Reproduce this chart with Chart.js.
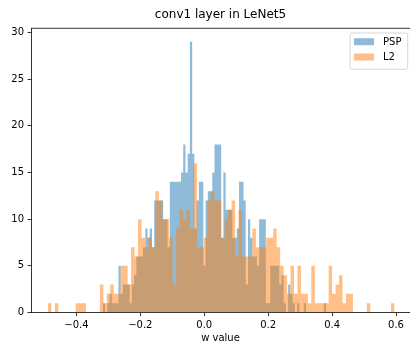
<!DOCTYPE html>
<html>
<head>
<meta charset="utf-8">
<title>conv1 layer in LeNet5</title>
<script src="https://cdn.jsdelivr.net/npm/chart.js@4.4.1/dist/chart.umd.min.js"></script>
<style>
  html, body { margin: 0; padding: 0; background: #fff; }
  canvas { display: block; }
</style>
</head>
<body>
<canvas id="histChart" width="410" height="345"></canvas>
<script>
// weight counts per bin, 100 bins for each run
const pspCounts = [
  1, 0, 1, 2, 1, 1, 1, 5, 2, 3,
  3, 3, 1, 3, 4, 6, 6, 6, 7, 9,
  8, 9, 7, 12, 12, 12, 12, 10, 10, 7,
  14, 14, 14, 14, 14, 15, 18, 15, 17, 29,
  17, 9, 12, 14, 14, 5, 12, 13, 13, 15,
  18, 18, 18, 8, 15, 11, 11, 11, 8, 8,
  9, 14, 14, 12, 3, 10, 8, 6, 6, 5,
  10, 10, 10, 1, 1, 5, 5, 5, 5, 3,
  4, 1, 0, 3, 2, 1, 0, 1, 0, 0,
  1, 0, 0, 0, 0, 0, 0, 0, 0, 1
];
const l2Counts = [
  1, 0, 1, 0, 0, 0, 0, 0, 1, 1,
  1, 0, 0, 0, 0, 3, 1, 2, 3, 2,
  2, 5, 5, 3, 7, 6, 10, 8, 7, 8,
  7, 13, 12, 10, 10, 8, 3, 9, 11, 10,
  11, 9, 16, 7, 7, 8, 12, 13, 12, 12,
  8, 10, 11, 12, 6, 11, 6, 6, 6, 9,
  7, 7, 7, 8, 8, 9, 7, 5, 4, 2,
  5, 2, 5, 2, 2, 1, 5, 1, 1, 1,
  1, 5, 2, 3, 4, 1, 2, 2, 0, 0,
  0, 0, 1, 0, 0, 0, 0, 0, 0, 1
];
// range of w values each histogram was binned over
const pspRange = [-0.3172, 0.3813];
const l2Range = [-0.4891, 0.5953];
const seriesLabels = ['PSP', 'L2'];
const xTicks = [-0.4, -0.2, 0.0, 0.2, 0.4, 0.6];
const yTicks = [0, 5, 10, 15, 20, 25, 30];

const xMin = -0.542, xMax = 0.64375;
const yMax = 30.45;

// histogram outline: one point per left bin edge, plus the closing right edge
function binEdges(counts, range) {
  const w = (range[1] - range[0]) / counts.length;
  const pts = counts.map((c, i) => ({ x: range[0] + i * w, y: c }));
  pts.push({ x: range[1], y: counts[counts.length - 1] });
  return pts;
}

function fmtX(v) {
  if (Math.abs(v) < 1e-9) return '0.0';
  return (v < 0 ? '\u2212' : '') + Math.abs(v).toFixed(1);
}

Chart.defaults.font.family = '"DejaVu Sans", sans-serif';
Chart.defaults.font.size = 10;
Chart.defaults.color = '#000';

// top spine + matplotlib style legend in the upper right corner
const frameAndLegend = {
  id: 'frameAndLegend',
  afterDraw(chart) {
    const { ctx, chartArea: area } = chart;
    ctx.save();
    ctx.strokeStyle = '#000';
    ctx.lineWidth = 0.8;
    ctx.beginPath();
    ctx.moveTo(area.left, area.top);
    ctx.lineTo(area.right, area.top);
    ctx.stroke();

    const boxW = 57.7, boxH = 36.3;
    const left = area.right - 2.3 - boxW;
    const top = area.top + 4.7;
    ctx.beginPath();
    ctx.roundRect(left, top, boxW, boxH, 2);
    ctx.fillStyle = 'rgba(255,255,255,0.8)';
    ctx.fill();
    ctx.strokeStyle = 'rgba(204,204,204,0.8)';
    ctx.lineWidth = 1;
    ctx.stroke();

    ctx.font = '10px "DejaVu Sans", sans-serif';
    ctx.textBaseline = 'middle';
    chart.data.datasets.forEach((ds, i) => {
      const cy = top + 8.7 + i * 15.3;
      ctx.fillStyle = ds.backgroundColor;
      ctx.fillRect(left + 4, cy - 3.5, 20, 7);
      ctx.fillStyle = '#000';
      ctx.fillText(ds.label, left + 33, cy + 0.5);
    });
    ctx.restore();
  }
};

const histStyle = {
  stepped: 'before',
  fill: 'origin',
  borderWidth: 0,
  pointRadius: 0,
  pointHoverRadius: 0,
  tension: 0
};

new Chart(document.getElementById('histChart').getContext('2d'), {
  type: 'line',
  data: {
    datasets: [
      Object.assign({
        label: seriesLabels[0],
        data: binEdges(pspCounts, pspRange),
        backgroundColor: 'rgba(31,119,180,0.5)',
        order: 2
      }, histStyle),
      Object.assign({
        label: seriesLabels[1],
        data: binEdges(l2Counts, l2Range),
        backgroundColor: 'rgba(255,127,14,0.5)',
        order: 1
      }, histStyle)
    ]
  },
  options: {
    responsive: false,
    devicePixelRatio: 1,
    animation: false,
    layout: { padding: 0 },
    plugins: {
      legend: { display: false },
      tooltip: { enabled: false },
      title: {
        display: true,
        text: 'conv1 layer in LeNet5',
        fullSize: false,
        color: '#000',
        font: { size: 12, weight: 'normal', lineHeight: 1.2 },
        padding: { top: 8, bottom: 5.9 }
      }
    },
    scales: {
      x: {
        type: 'linear',
        min: xMin,
        max: xMax,
        offset: false,
        afterBuildTicks: s => { s.ticks = xTicks.map(v => ({ value: v })); },
        afterFit: s => { s.height = 32.5; },
        ticks: {
          callback: v => fmtX(v),
          padding: 3,
          maxRotation: 0,
          autoSkip: false,
          color: '#000'
        },
        grid: {
          drawOnChartArea: false,
          drawTicks: true,
          tickLength: 3.5,
          color: '#000',
          lineWidth: 0.8
        },
        border: { display: true, color: '#000', width: 0.8 },
        title: {
          display: true,
          text: 'w value',
          color: '#000',
          font: { size: 10, lineHeight: 1.2 },
          padding: { top: 0, bottom: 1 }
        }
      },
      y: {
        min: 0,
        max: yMax,
        afterBuildTicks: s => { s.ticks = yTicks.map(v => ({ value: v })); },
        afterFit: s => { s.width = 31; },
        ticks: { padding: 3.5, color: '#000' },
        grid: {
          drawOnChartArea: false,
          drawTicks: true,
          tickLength: 3.5,
          color: '#000',
          lineWidth: 0.8
        },
        border: { display: true, color: '#000', width: 0.8 }
      }
    }
  },
  plugins: [frameAndLegend]
});
</script>
</body>
</html>
